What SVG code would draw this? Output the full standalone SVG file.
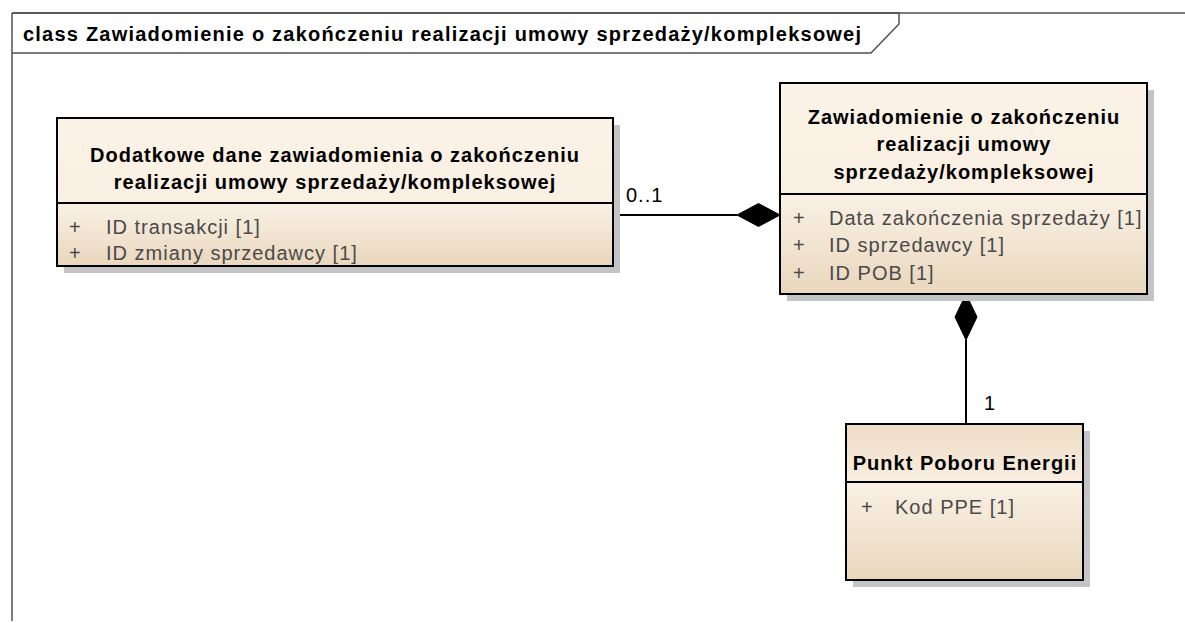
<svg xmlns="http://www.w3.org/2000/svg" width="1185" height="623" viewBox="0 0 1185 623">
<defs>
<linearGradient id="hdr" x1="0" y1="0" x2="0" y2="1">
<stop offset="0" stop-color="#fcf3e8"/>
<stop offset="1" stop-color="#f9efe2"/>
</linearGradient>
<linearGradient id="hdr3" x1="0" y1="0" x2="0" y2="1">
<stop offset="0" stop-color="#eddcc3"/>
<stop offset="1" stop-color="#f8eee1"/>
</linearGradient>
<linearGradient id="cmp" x1="0" y1="0" x2="0" y2="1">
<stop offset="0" stop-color="#faf1e5"/>
<stop offset="1" stop-color="#e9d7bd"/>
</linearGradient>
<style>
.shadow{fill:#c4c4c4;}
.box{fill:none;stroke:#000;stroke-width:2;}
.div{stroke:#000;stroke-width:2;}
.ttl{font-family:"Liberation Sans",Arial,sans-serif;font-size:20px;font-weight:bold;fill:#000;text-anchor:middle;letter-spacing:1px;}
.att{font-family:"Liberation Sans",Arial,sans-serif;font-size:20px;fill:#4a4a4a;letter-spacing:1px;}
.lbl{font-family:"Liberation Sans",Arial,sans-serif;font-size:20px;fill:#000;letter-spacing:1px;}
.conn{stroke:#000;stroke-width:2;fill:none;}
.dia{fill:#000;stroke:#000;stroke-width:1;}
.frame{fill:none;stroke:#505050;stroke-width:1.5;}
</style>
</defs>
<rect width="1185" height="623" fill="#fff"/>

<g id="frame">
<line class="frame" x1="12" y1="13" x2="1185" y2="13" stroke="#8a8a8a"/>
<line class="frame" x1="12" y1="13" x2="12" y2="621"/>
<polyline class="frame" points="12,13 899,13 899,24 871,53 12,53"/>
<text x="23" y="41" font-family="Liberation Sans, Arial, sans-serif" font-size="20" font-weight="bold" fill="#000" textLength="838" lengthAdjust="spacing">class Zawiadomienie o zakończeniu realizacji umowy sprzedaży/kompleksowej</text>
</g>

<g id="connectors">
<line class="conn" x1="613" y1="215" x2="737" y2="215"/>
<polygon class="dia" points="780,215 758.5,203.5 737,215 758.5,226.5"/>
<text class="lbl" x="626" y="202">0..1</text>
<line class="conn" x1="966" y1="340" x2="966" y2="424"/>
<polygon class="dia" points="966,294 977,317 966,340 955,317"/>
<text class="lbl" x="984" y="410">1</text>
</g>

<g id="dodatkowe">
<rect class="shadow" x="64" y="125" width="556" height="148"/>
<rect x="57" y="118" width="556" height="85" fill="url(#hdr)"/>
<rect x="57" y="203" width="556" height="63" fill="url(#cmp)"/>
<rect class="box" x="57" y="118" width="556" height="148"/>
<line class="div" x1="57" y1="203" x2="613" y2="203"/>
<text class="ttl" x="335" y="162">Dodatkowe dane zawiadomienia o zakończeniu</text>
<text class="ttl" x="335" y="189">realizacji umowy sprzedaży/kompleksowej</text>
<text class="att" x="69" y="234">+</text>
<text class="att" x="106" y="234">ID transakcji [1]</text>
<text class="att" x="69" y="260">+</text>
<text class="att" x="106" y="260">ID zmiany sprzedawcy  [1]</text>
</g>

<g id="zawiadomienie">
<rect class="shadow" x="787" y="90" width="367" height="211"/>
<rect x="780" y="83" width="367" height="111" fill="url(#hdr)"/>
<rect x="780" y="194" width="367" height="100" fill="url(#cmp)"/>
<rect class="box" x="780" y="83" width="367" height="211"/>
<line class="div" x1="780" y1="194" x2="1147" y2="194"/>
<text class="ttl" x="964" y="124">Zawiadomienie o zakończeniu</text>
<text class="ttl" x="964" y="151">realizacji umowy</text>
<text class="ttl" x="964" y="179">sprzedaży/kompleksowej</text>
<text class="att" x="793" y="225">+</text>
<text class="att" x="829" y="225">Data zakończenia sprzedaży [1]</text>
<text class="att" x="793" y="252">+</text>
<text class="att" x="829" y="252">ID sprzedawcy [1]</text>
<text class="att" x="793" y="280">+</text>
<text class="att" x="829" y="280">ID POB [1]</text>
</g>

<g id="ppe">
<rect class="shadow" x="853" y="431" width="237" height="156"/>
<rect x="846" y="424" width="237" height="58" fill="url(#hdr3)"/>
<rect x="846" y="482" width="237" height="98" fill="url(#cmp)"/>
<rect class="box" x="846" y="424" width="237" height="156"/>
<line class="div" x1="846" y1="482" x2="1083" y2="482"/>
<text class="ttl" x="965" y="470">Punkt Poboru Energii</text>
<text class="att" x="861" y="514">+</text>
<text class="att" x="895" y="514">Kod PPE [1]</text>
</g>
</svg>
